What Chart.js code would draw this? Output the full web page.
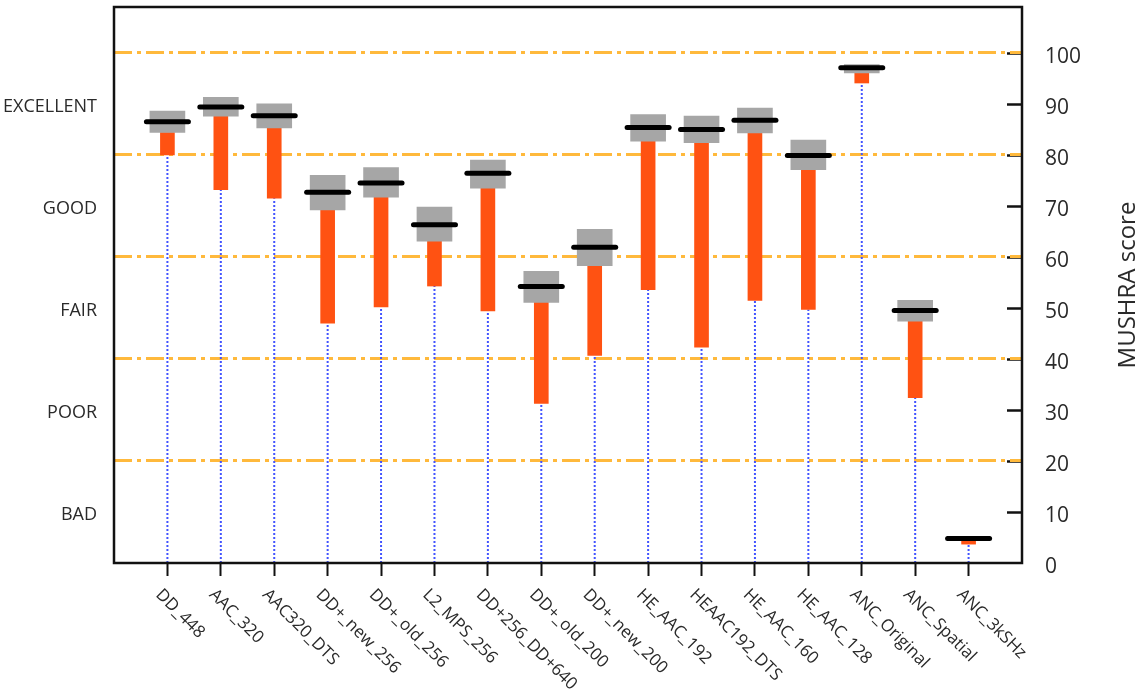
<!DOCTYPE html>
<html>
<head>
<meta charset="utf-8">
<script src="https://cdn.jsdelivr.net/npm/chart.js@4.4.1/dist/chart.umd.min.js"></script>
<style>
  html, body { margin: 0; padding: 0; background: #fff; }
  #wrap { width: 1142px; height: 696px; }
</style>
</head>
<body>
<div id="wrap"><canvas id="c" width="1142" height="696"></canvas></div>
<script>
// Codecs under test (x axis, left to right)
const categories = [
  'DD_448', 'AAC_320', 'AAC320_DTS', 'DD+_new_256', 'DD+_old_256', 'L2_MPS_256',
  'DD+256_DD+640', 'DD+_old_200', 'DD+_new_200', 'HE_AAC_192', 'HEAAC192_DTS',
  'HE_AAC_160', 'HE_AAC_128', 'ANC_Original', 'ANC_Spatial', 'ANC_3kSHz'
];
// Mean MUSHRA score per codec
const meanScore = [86.5, 89.4, 87.7, 72.7, 74.5, 66.3, 76.4, 54.2, 61.9, 85.4, 85.0, 86.8, 79.9, 97.1, 49.5, 4.8];
// Confidence interval around the mean
const ciLow  = [84.4, 87.6, 85.3, 69.2, 71.7, 63.1, 73.5, 51.1, 58.3, 82.7, 82.4, 84.3, 77.1, 96.1, 47.4, 4.4];
const ciHigh = [88.6, 91.3, 90.0, 76.0, 77.5, 69.8, 79.0, 57.2, 65.4, 87.9, 87.6, 89.2, 82.9, 97.7, 51.5, 5.2];
// Lowest score given per codec
const minScore = [80.0, 73.2, 71.5, 47.0, 50.2, 54.3, 49.4, 31.3, 40.7, 53.6, 42.3, 51.5, 49.7, 94.1, 32.4, 3.7];
// Verbal quality bands (left axis) and score ticks (right axis)
const ratingLabels = ['BAD', 'POOR', 'FAIR', 'GOOD', 'EXCELLENT'];
const ratingTicks = [10, 30, 50, 70, 90];
const scoreTicks = [0, 10, 20, 30, 40, 50, 60, 70, 80, 90, 100];
const bandLines = [20, 40, 60, 80, 100];

const FONT = '"Open Sans", "DejaVu Sans", sans-serif';
const TEXT = '#2a2a2a';

// dotted stems from zero up to the lowest score
const stemData = [];
categories.forEach((_, i) => {
  stemData.push({x: i, y: 0}, {x: i, y: minScore[i]}, {x: i, y: null});
});

const frameAndLabels = {
  id: 'frameAndLabels',
  beforeDraw(chart) {
    // short inward ticks on the right frame
    const {ctx, chartArea} = chart;
    const ys = chart.scales.y;
    ctx.save();
    ctx.strokeStyle = '#111';
    ctx.lineWidth = 2.5;
    ys.ticks.forEach(t => {
      if (t.value === 0) return;
      const py = Math.round(ys.getPixelForValue(t.value)) + 0.5;
      ctx.beginPath();
      ctx.moveTo(chartArea.right - 15, py);
      ctx.lineTo(chartArea.right, py);
      ctx.stroke();
    });
    ctx.restore();
  },
  beforeDatasetDraw(chart, args) {
    chart.ctx.save();
    if (chart.data.datasets[args.index].roundCaps) chart.ctx.lineCap = 'round';
  },
  afterDatasetDraw(chart) {
    chart.ctx.restore();
  },
  afterDraw(chart) {
    const {ctx, chartArea} = chart;
    const xs = chart.scales.x;
    ctx.save();
    // frame
    ctx.strokeStyle = '#111';
    ctx.lineWidth = 2.5;
    ctx.strokeRect(chartArea.left, chartArea.top, chartArea.right - chartArea.left, chartArea.bottom - chartArea.top);
    // slanted category labels
    ctx.fillStyle = TEXT;
    ctx.font = '17px ' + FONT;
    ctx.textAlign = 'left';
    ctx.textBaseline = 'top';
    categories.forEach((name, i) => {
      const px = xs.getPixelForValue(i);
      ctx.save();
      ctx.translate(px - 3, chartArea.bottom + 23);
      ctx.rotate(Math.PI / 4);
      ctx.fillText(name, 0, 0);
      ctx.restore();
    });
    // right axis title, reading upwards
    ctx.font = '24px ' + FONT;
    ctx.textAlign = 'center';
    ctx.textBaseline = 'middle';
    ctx.translate(1128, (chartArea.top + chartArea.bottom) / 2);
    ctx.rotate(-Math.PI / 2);
    ctx.fillText('MUSHRA score', 0, 0);
    ctx.restore();
  }
};

// vertical axes keep a fixed width and add no extra room above/below the plot
const fixVertical = w => s => {
  s.width = w;
  s.paddingTop = 0;
  s.paddingBottom = 0;
};

new Chart(document.getElementById('c'), {
  type: 'bar',
  data: {
    datasets: [
      {
        type: 'line',
        data: stemData,
        yAxisID: 'y',
        borderColor: '#4253ff',
        borderWidth: 2,
        borderDash: [2, 2],
        pointRadius: 0,
        spanGaps: false,
        order: 4
      },
      {
        data: categories.map((_, i) => ({x: i, y: [minScore[i], ciLow[i]]})),
        yAxisID: 'y',
        backgroundColor: '#ff5212',
        barThickness: 14,
        grouped: false,
        order: 3
      },
      {
        data: categories.map((_, i) => ({x: i, y: [ciLow[i], ciHigh[i]]})),
        yAxisID: 'y',
        backgroundColor: '#a6a6a6',
        barThickness: 35,
        grouped: false,
        order: 2
      },
      {
        type: 'line',
        data: categories.map((_, i) => ({x: i, y: meanScore[i]})),
        yAxisID: 'y',
        showLine: false,
        pointStyle: 'line',
        pointRadius: 21,
        pointBorderWidth: 5,
        pointBorderColor: '#000',
        roundCaps: true,
        order: 1
      }
    ]
  },
  options: {
    responsive: false,
    animation: false,
    events: [],
    layout: { autoPadding: false, padding: { top: 7, left: 0, right: 0, bottom: 0 } },
    plugins: { legend: { display: false }, tooltip: { enabled: false } },
    scales: {
      x: {
        type: 'linear',
        position: 'bottom',
        min: -1,
        max: 16,
        offset: false,
        afterBuildTicks: s => { s.ticks = categories.map((_, i) => ({value: i})); },
        afterFit: s => { s.height = 133; s.paddingLeft = 0; s.paddingRight = 0; },
        ticks: { display: false },
        grid: {
          offset: false,
          drawOnChartArea: false,
          drawTicks: true,
          tickLength: 13,
          tickColor: '#111',
          tickWidth: 2
        },
        border: { display: false }
      },
      yL: {
        type: 'linear',
        position: 'left',
        min: 0,
        max: 109,
        afterBuildTicks: s => { s.ticks = ratingTicks.map(v => ({value: v})); },
        afterFit: fixVertical(114),
        ticks: {
          callback: v => ratingLabels[ratingTicks.indexOf(v)],
          font: { family: FONT, size: 18 },
          color: TEXT,
          padding: 9,
          labelOffset: 3
        },
        grid: { display: false },
        border: { display: false }
      },
      y: {
        type: 'linear',
        position: 'right',
        min: 0,
        max: 109,
        afterBuildTicks: s => { s.ticks = scoreTicks.map(v => ({value: v})); },
        afterFit: fixVertical(120),
        ticks: {
          font: { family: FONT, size: 21 },
          color: TEXT,
          padding: 23,
          labelOffset: 4
        },
        grid: {
          drawTicks: false,
          lineWidth: 3,
          color: ctx => (ctx.tick && bandLines.includes(ctx.tick.value)) ? '#ffb93c' : 'rgba(0,0,0,0)'
        },
        border: { display: false, dash: [18, 5, 4, 5] }
      }
    }
  },
  plugins: [frameAndLabels]
});
</script>
</body>
</html>
